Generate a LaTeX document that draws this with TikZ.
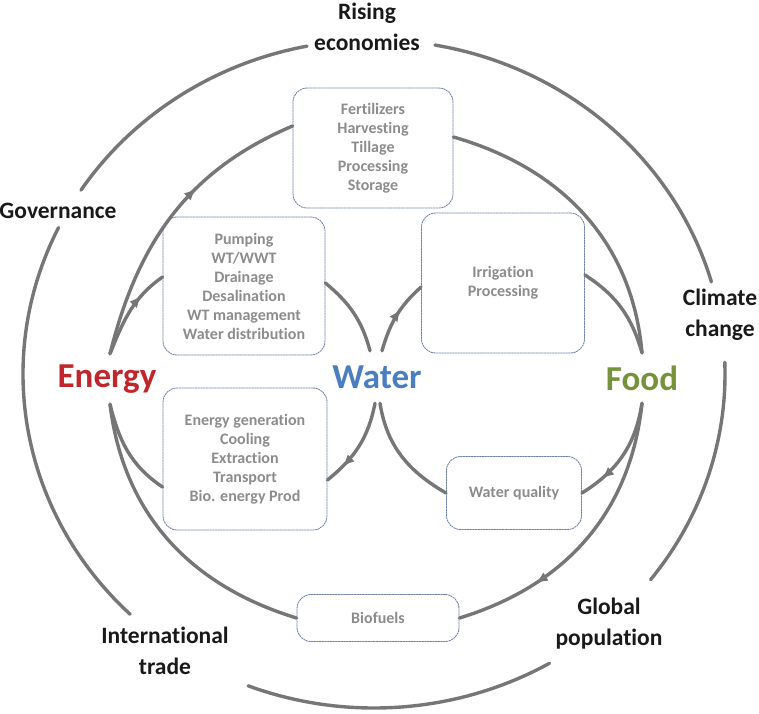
\documentclass[tikz,border=0pt]{standalone}
\usepackage{fontspec}
\setmainfont{Carlito}[Ligatures=NoCommon]
\usetikzlibrary{arrows.meta,decorations.markings}
\definecolor{linegray}{RGB}{118,118,118}
\definecolor{boxline}{RGB}{112,132,170}
\definecolor{boxtext}{RGB}{140,140,140}
\definecolor{energyred}{RGB}{192,39,45}
\definecolor{waterblue}{RGB}{74,126,190}
\definecolor{foodgreen}{RGB}{118,146,60}
\begin{document}
\begin{tikzpicture}[x=1pt,y=1pt,line cap=round,
		link/.style={draw,color=linegray,line width=3.4pt},
		midarrow/.style={postaction={decorate},decoration={markings,mark=at position #1 with {\arrow{Latex[length=12pt,width=10pt]}}}},
		box/.style={draw=boxline,dash pattern=on 1.6pt off 1.1pt,line width=0.9pt,rounded corners=14pt,text=boxtext,align=center,inner sep=0pt,font=\fontsize{16}{19}\selectfont\bfseries},
		hub/.style={font=\fontsize{35}{40}\selectfont\bfseries,minimum height=50pt,inner sep=0pt},
		driver/.style={font=\fontsize{23.5}{31}\selectfont\bfseries,align=center,text=black!90}]
			\useasboundingbox (0,0) rectangle (759,-713);
			\node[hub,text=energyred] (energy) at (107,-379) {Energy};
			\node[hub,text=waterblue,minimum height=52pt] (water) at (377,-377) {Water};
			\node[hub,text=foodgreen] (food) at (642,-378) {Food};
			\node[box,minimum width=160pt,minimum height=120pt] (fert) at (373,-148) {Fertilizers\\Harvesting\\Tillage\\Processing\\Storage};
			\node[box,minimum width=162pt,minimum height=138pt] (pump) at (244,-286) {Pumping\\WT/WWT\\Drainage\\Desalination\\WT management\\Water distribution};
			\node[box,minimum width=163pt,minimum height=140pt] (irrig) at (503,-283) {Irrigation\\Processing};
			\node[box,minimum width=164pt,minimum height=142pt] (engen) at (245,-459) {Energy generation\\Cooling\\Extraction\\Transport\\Bio. energy Prod};
			\node[box,minimum width=135pt,minimum height=73pt] (wqual) at (514,-493) {Water quality};
			\node[box,minimum width=162pt,minimum height=47pt] (biof) at (378,-618) {Biofuels};
			\node[driver] (rising) at (367,-27) {Rising\\economies};
			\node[driver] (gov) at (58,-211) {Governance};
			\node[driver] (climate) at (720,-315) {Climate\\change};
			\node[driver] (global) at (609,-624) {Global\\population};
			\node[driver] (intl) at (165,-651) {International\\trade};
			% outer ring
			\coordinate (ring) at (374,-374);
			\draw[link] (ring) ++(80:351 and 334) arc[start angle=80,end angle=16,x radius=351,y radius=334];
			\draw[link] (ring) ++(2:351 and 334) arc[start angle=2,end angle=-38,x radius=351,y radius=334];
			\draw[link] (ring) ++(-60:351 and 334) arc[start angle=-60,end angle=-111,x radius=351,y radius=334];
			\draw[link] (ring) ++(226:351 and 334) arc[start angle=226,end angle=154,x radius=351,y radius=334];
			\draw[link] (ring) ++(146.6:351 and 334) arc[start angle=146.6,end angle=101,x radius=351,y radius=334];
			% middle loop
			\draw[link,midarrow=0.62] ([xshift=3pt]energy.north) to[out=76,in=203] ([yshift=22pt]fert.west);
			\draw[link] ([yshift=11pt]fert.east) to[out=-16,in=95] (food.north);
			\draw[link,midarrow=0.72] (food.south) to[out=-96,in=17] (biof.east);
			\draw[link] (biof.west) to[out=163,in=-83] ([xshift=3pt]energy.south);
			% small loops
			\draw[link,midarrow=0.7] ([xshift=3pt]energy.north) to[out=68,in=215] ([yshift=9pt]pump.west);
			\draw[link] ([yshift=3pt]pump.east) to[out=-40,in=105] ([xshift=-7pt]water.north);
			\draw[link,midarrow=0.6] ([xshift=5pt]water.north) to[out=74,in=222] ([yshift=-4pt]irrig.west);
			\draw[link] ([yshift=8pt]irrig.east) to[out=-33,in=106] (food.north);
			\draw[link,midarrow=0.78] ([xshift=-2pt]water.south) to[out=-101,in=39] ([yshift=-21pt]engen.east);
			\draw[link] ([yshift=-28pt]engen.west) to[out=146,in=-76] ([xshift=3pt]energy.south);
			\draw[link,midarrow=0.78] (food.south) to[out=-99,in=32] (wqual.east);
			\draw[link] (wqual.west) to[out=150,in=-81] ([xshift=3pt]water.south);
		\end{tikzpicture}
\end{document}
